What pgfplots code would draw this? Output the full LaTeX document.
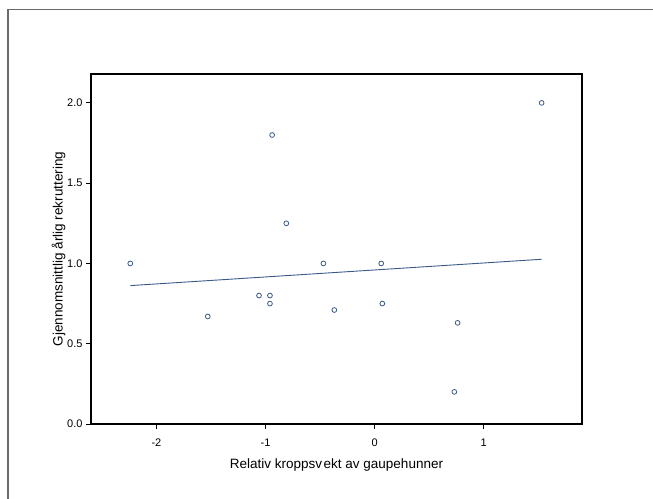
\documentclass[border=0pt]{standalone}
\usepackage{pgfplots}
\pgfplotsset{compat=1.18}
\usepackage{fontspec}
\setmainfont{Liberation Sans}
\definecolor{mk}{HTML}{3B5A8A}
\definecolor{fr}{HTML}{6A6A6A}
\begin{document}
\begin{tikzpicture}
\useasboundingbox (0,0) rectangle (653bp,499bp);
\draw[fr, line width=1.6bp] (8bp,0) -- (8bp,489.5bp) -- (653bp,489.5bp);
\begin{axis}[
  at={(91bp,75bp)}, anchor=south west,
  scale only axis, width=491bp, height=350bp,
  xmin=-2.6, xmax=1.9, ymin=0, ymax=2.18,
  xtick={-2,-1,0,1}, ytick={0,0.5,1,1.5,2},
  tick align=outside, xtick pos=left, ytick pos=left,
  major tick length=5bp,
  every tick/.style={black, line width=0.9bp},
  axis line style={line width=1.3bp},
  /pgf/number format/assume math mode=true,
  yticklabel style={/pgf/number format/.cd, fixed, fixed zerofill, precision=1},
  ticklabel style={font=\fontsize{11bp}{13bp}\selectfont},
  xticklabel style={yshift=-6bp},
  label style={font=\fontsize{13.5bp}{15bp}\selectfont},
  xlabel={Relativ kroppsv\hspace{1.5bp}ekt av gaupehunner},
  ylabel={Gjennomsnittlig årlig rekruttering},
  xlabel style={yshift=-6bp},
  ylabel style={yshift=-5bp},
]
\addplot[only marks, mark=o, mark size=2.4bp, mk, mark options={line width=0.8bp}] coordinates {
(-2.24,1.00) (-1.53,0.67) (-1.06,0.80) (-0.96,0.80) (-0.96,0.75)
(-0.94,1.80) (-0.81,1.25) (-0.47,1.00) (-0.37,0.71) (0.06,1.00)
(0.07,0.75) (0.73,0.20) (0.76,0.63) (1.53,2.00)
};
\addplot[mk, line width=0.9bp] coordinates {(-2.24,0.862) (1.53,1.026)};
\end{axis}
\end{tikzpicture}
\end{document}
